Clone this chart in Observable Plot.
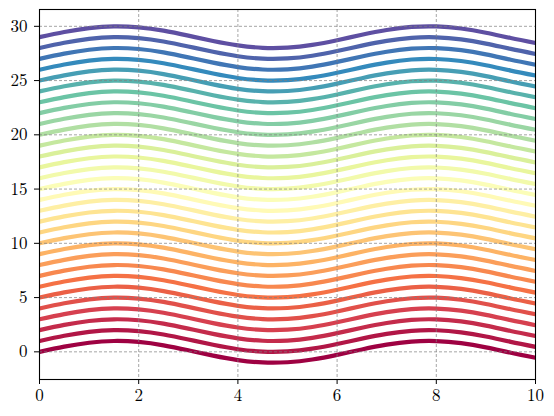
<!DOCTYPE html>
<html>
<head>
<meta charset="utf-8">
<script src="https://cdn.jsdelivr.net/npm/d3@7"></script>
<script src="https://cdn.jsdelivr.net/npm/@observablehq/plot@0.6"></script>
<style>
  html, body { margin: 0; padding: 0; background: #fff; }
  #chart svg { display: block; }
</style>
</head>
<body>
<div id="chart"></div>
<script>
// x positions where the base wave was read
const xs = [0, 0.5, 1, 1.5, 2, 2.5, 3, 3.5, 4, 4.5, 5, 5.5, 6, 6.5, 7, 7.5, 8, 8.5, 9, 9.5, 10];
// base wave value (curve at offset 0) read at each x
const baseWave = [0, 0.48, 0.84, 1.0, 0.91, 0.6, 0.14, -0.35, -0.76, -0.98, -0.96, -0.71, -0.28, 0.22, 0.66, 0.94, 0.99, 0.8, 0.41, -0.08, -0.54];
// vertical offsets of the 30 curves
const offsets = [0,1,2,3,4,5,6,7,8,9,10,11,12,13,14,15,16,17,18,19,20,21,22,23,24,25,26,27,28,29];
// tick values
const xTicks = [0, 2, 4, 6, 8, 10];
const yTicks = [0, 5, 10, 15, 20, 25, 30];

// Spectral colormap stops (ColorBrewer 11-class)
const spectral = ["#9e0142","#d53e4f","#f46d43","#fdae61","#fee08b","#ffffbf","#e6f598","#abdda4","#66c2a5","#3288bd","#5e4fa2"];

const rows = [];
for (const k of offsets) {
  xs.forEach((x, i) => rows.push({x, y: baseWave[i] + k, k}));
}

const font = "Latin Modern Roman";

const chart = Plot.plot({
  width: 554,
  height: 416,
  marginLeft: 39,
  marginRight: 19,
  marginTop: 9,
  marginBottom: 37,
  style: {background: "#fff", color: "#000"},
  x: {domain: [0, 10]},
  y: {domain: [-2.55, 31.55]},
  color: {
    type: "linear",
    domain: d3.range(11).map(i => i * 29 / 10),
    range: spectral,
    interpolate: "rgb"
  },
  marks: [
    Plot.line(rows, {x: "x", y: "y", z: "k", stroke: "k", strokeWidth: 4.2, curve: "natural", clip: true}),
    Plot.gridX(xTicks, {stroke: "#808080", strokeOpacity: 1, strokeWidth: 0.7, strokeDasharray: "3,2"}),
    Plot.gridY(yTicks, {stroke: "#808080", strokeOpacity: 1, strokeWidth: 0.7, strokeDasharray: "3,2"}),
    Plot.axisX(xTicks, {tickSize: 5, tickPadding: 4, label: null, fontFamily: font, fontSize: 17, tickFormat: d => String(d)}),
    Plot.axisY(yTicks, {tickSize: 5, tickPadding: 7, label: null, fontFamily: font, fontSize: 17, tickFormat: d => String(d)}),
    Plot.frame({stroke: "#000", strokeWidth: 1.1})
  ]
});
document.getElementById("chart").appendChild(chart);
</script>
</body>
</html>
